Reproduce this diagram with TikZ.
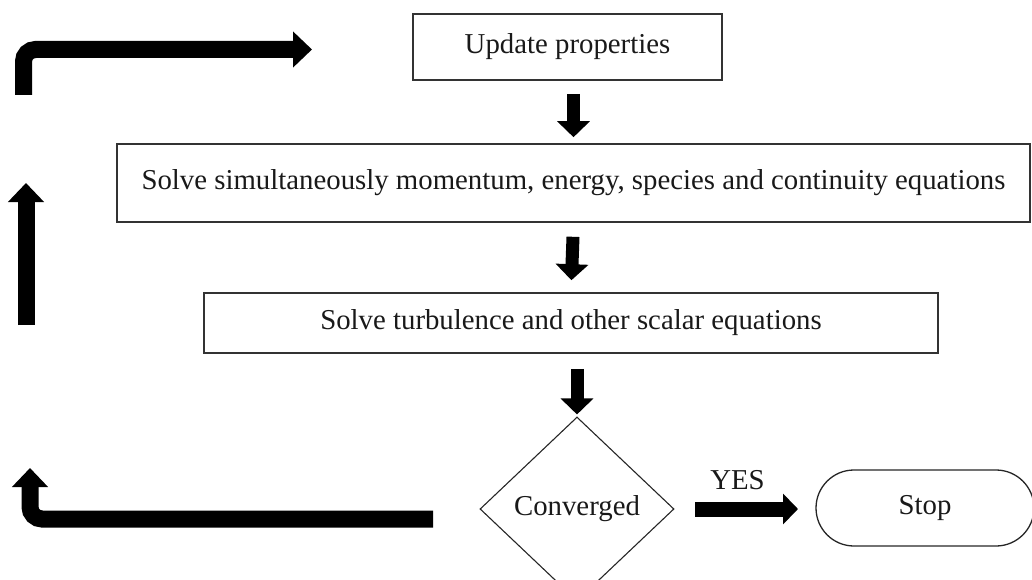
\documentclass[tikz,border=0pt]{standalone}
\usepackage{fontspec}
\setmainfont{Liberation Serif}
\usetikzlibrary{arrows.meta,shapes.geometric,shapes.misc}
\begin{document}
\begin{tikzpicture}[x=1pt,y=-1pt,
  every node/.style={font=\fontsize{28.8}{34}\selectfont,text=black!90},
  stepbox/.style={draw=black!80,line width=1.6pt,rectangle,inner sep=0pt},
  decision/.style={draw=black!85,line width=1.1pt,diamond,inner sep=0pt},
  terminal/.style={draw=black!85,line width=1.3pt,rounded rectangle,inner sep=0pt},
  flow/.style={line width=13pt,-{Triangle[width=32pt,length=16pt]}},
  yesflow/.style={line width=15pt,-{Triangle[width=30pt,length=15pt]}},
  loopflow/.style={line width=17pt,-{Triangle[width=35pt,length=19pt]},rounded corners=12pt},
]
\useasboundingbox (0,0) rectangle (1032,580);

% process steps
\node[stepbox,minimum width=309pt,minimum height=66pt] (upd) at (567.5,47) {Update properties};
\node[stepbox,minimum width=913pt,minimum height=78pt] (solve) at (573.5,183)
  {Solve simultaneously momentum, energy, species and continuity equations};
\node[stepbox,minimum width=734pt,minimum height=60pt] (turb) at (571,323)
  {Solve turbulence and other scalar equations};
\node[decision,minimum width=194pt,minimum height=184pt] (conv) at (577,509) {Converged};
\node[terminal,minimum width=218pt,minimum height=76pt] (stop) at (925,508) {Stop};

% main flow
\draw[flow,shorten <=13pt,shorten >=6pt] (upd.south -| solve.north) -- (solve.north);
\draw[flow,shorten <=14pt,shorten >=12pt] (solve.south) -- (turb.south |- turb.north);
\draw[flow,shorten <=15pt,shorten >=2pt] (turb.south -| conv.north) -- (conv.north);
\coordinate (yes0) at (695,509);
\coordinate (yes1) at (798,509);
\draw[yesflow] (yes0) -- node[midway,xshift=-9pt,yshift=29pt] {YES} (yes1);

% loop back to the property update
\coordinate (ret0) at (433,519);
\coordinate (ret1) at (30,468);
\coordinate (up0) at (26,325);
\coordinate (up1) at (26,183);
\coordinate (top0) at (23.5,95);
\coordinate (top1) at (312,49.5);
\draw[loopflow] (ret0) -- (ret0 -| ret1) -- (ret1);
\draw[loopflow] (up0) -- (up1);
\draw[loopflow] (top0) -- (top0 |- top1) -- (top1);
\end{tikzpicture}
\end{document}
